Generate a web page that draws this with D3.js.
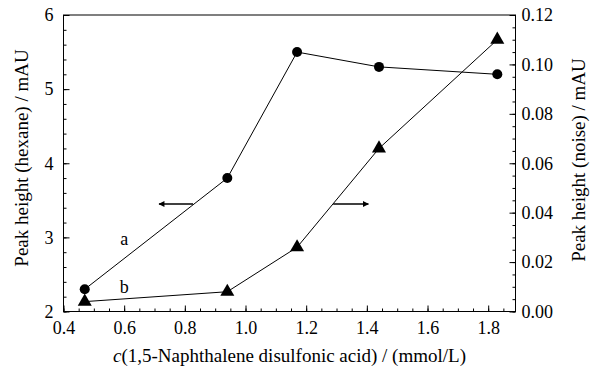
<!DOCTYPE html>
<html>
<head>
<meta charset="utf-8">
<style>
  html, body { margin: 0; padding: 0; background: #fff; }
  svg text { font-family: "Liberation Serif", serif !important; fill: #000; }
  .axis path.domain { display: none; }
  .axis line { stroke: #000; stroke-width: 1; }
</style>
<script src="https://cdn.jsdelivr.net/npm/d3@7"></script>
</head>
<body>
<div id="main"></div>
<script>
// concentration of 1,5-naphthalene disulfonic acid (mmol/L)
var conc = [0.47, 0.94, 1.17, 1.44, 1.83];
// a: peak height of hexane (left axis, mAU)
var hexane = [2.3, 3.8, 5.5, 5.3, 5.2];
// b: peak height of noise (right axis, mAU)
var noise = [0.004, 0.008, 0.026, 0.066, 0.110];

var xTicks = [0.4, 0.6, 0.8, 1.0, 1.2, 1.4, 1.6, 1.8];
var leftTicks = [2, 3, 4, 5, 6];
var rightTicks = [0.00, 0.02, 0.04, 0.06, 0.08, 0.10, 0.12];

var width = 603, height = 372;
var margin = {left: 63.5, right: 87.5, top: 15, bottom: 60.5};
var tickFont = "18px", titleFont = "19px";

var svg = d3.select("#main").append("svg")
    .attr("width", width)
    .attr("height", height);

var x = d3.scaleLinear().domain([0.4, 1.89]).range([margin.left, width - margin.right]);
var yL = d3.scaleLinear().domain([2, 6]).range([height - margin.bottom, margin.top]);
var yR = d3.scaleLinear().domain([0, 0.12]).range([height - margin.bottom, margin.top]);

var bottom = height - margin.bottom, right = width - margin.right;

function minors(start, stop, step) {
    return d3.range(Math.round((stop - start) / step) + 1).map(function(i) { return +(start + i * step).toFixed(4); });
}

function styleAxis(g) {
    g.attr("font-family", null).attr("font-size", null);
    g.selectAll("text").style("font-size", tickFont);
}

// bottom axis
svg.append("g").attr("class", "axis")
    .attr("transform", "translate(0," + bottom + ")")
    .call(d3.axisBottom(x).tickValues(minors(0.4, 1.85, 0.05)).tickSize(-3).tickFormat(""));
svg.append("g").attr("class", "axis")
    .attr("transform", "translate(0," + bottom + ")")
    .call(d3.axisBottom(x).tickValues(xTicks).tickSize(-6).tickPadding(10).tickFormat(d3.format(".1f")))
    .call(styleAxis);

// left axis
svg.append("g").attr("class", "axis")
    .attr("transform", "translate(" + margin.left + ",0)")
    .call(d3.axisLeft(yL).tickValues(minors(2, 6, 0.2)).tickSize(-3).tickFormat(""));
svg.append("g").attr("class", "axis")
    .attr("transform", "translate(" + margin.left + ",0)")
    .call(d3.axisLeft(yL).tickValues(leftTicks).tickSize(-6).tickPadding(10).tickFormat(d3.format("d")))
    .call(styleAxis);

// right axis
svg.append("g").attr("class", "axis")
    .attr("transform", "translate(" + right + ",0)")
    .call(d3.axisRight(yR).tickValues(minors(0, 0.12, 0.005)).tickSize(-3).tickFormat(""));
svg.append("g").attr("class", "axis")
    .attr("transform", "translate(" + right + ",0)")
    .call(d3.axisRight(yR).tickValues(rightTicks).tickSize(-6).tickPadding(6).tickFormat(d3.format(".2f")))
    .call(styleAxis);

// frame
svg.append("rect")
    .attr("x", margin.left).attr("y", margin.top)
    .attr("width", right - margin.left).attr("height", bottom - margin.top)
    .attr("fill", "none").attr("stroke", "#000").attr("stroke-width", 1);

// series
var lineA = d3.line().x(function(d, i) { return x(conc[i]); }).y(function(d) { return yL(d); });
var lineB = d3.line().x(function(d, i) { return x(conc[i]); }).y(function(d) { return yR(d); });

svg.append("path").attr("d", lineA(hexane)).attr("fill", "none").attr("stroke", "#000").attr("stroke-width", 1);
svg.append("path").attr("d", lineB(noise)).attr("fill", "none").attr("stroke", "#000").attr("stroke-width", 1);

svg.selectAll(".dotA").data(hexane).enter().append("circle")
    .attr("cx", function(d, i) { return x(conc[i]); })
    .attr("cy", function(d) { return yL(d); })
    .attr("r", 5).attr("fill", "#000");

var tri = d3.symbol().type(d3.symbolTriangle).size(85);
svg.selectAll(".triB").data(noise).enter().append("path")
    .attr("d", tri)
    .attr("transform", function(d, i) { return "translate(" + x(conc[i]) + "," + yR(d) + ")"; })
    .attr("fill", "#000");

// arrows showing which axis each curve uses
var defs = svg.append("defs");
defs.append("marker").attr("id", "head")
    .attr("viewBox", "0 0 10 10").attr("refX", 9).attr("refY", 5)
    .attr("markerWidth", 9).attr("markerHeight", 6).attr("orient", "auto")
    .attr("markerUnits", "userSpaceOnUse")
    .append("path").attr("d", "M0,0L10,5L0,10z").attr("fill", "#000");

var arrowY = 3.45;
svg.append("line")
    .attr("x1", x(0.827)).attr("x2", x(0.715))
    .attr("y1", yL(arrowY)).attr("y2", yL(arrowY))
    .attr("stroke", "#000").attr("stroke-width", 1.3).attr("marker-end", "url(#head)");
svg.append("line")
    .attr("x1", x(1.289)).attr("x2", x(1.405))
    .attr("y1", yL(arrowY)).attr("y2", yL(arrowY))
    .attr("stroke", "#000").attr("stroke-width", 1.3).attr("marker-end", "url(#head)");

// curve labels
svg.append("text").attr("x", x(0.6)).attr("y", yL(2.98) + 6)
    .attr("text-anchor", "middle").style("font-size", tickFont).text("a");
svg.append("text").attr("x", x(0.6)).attr("y", yL(2.33) + 6)
    .attr("text-anchor", "middle").style("font-size", tickFont).text("b");

// axis titles
var xt = svg.append("text")
    .attr("x", (margin.left + right) / 2).attr("y", 362)
    .attr("text-anchor", "middle").style("font-size", titleFont);
xt.append("tspan").style("font-style", "italic").text("c");
xt.append("tspan").text("(1,5-Naphthalene disulfonic acid) / (mmol/L)");

svg.append("text")
    .attr("transform", "translate(28,158) rotate(-90)")
    .attr("text-anchor", "middle").style("font-size", titleFont)
    .text("Peak height (hexane) / mAU");

svg.append("text")
    .attr("transform", "translate(585,160) rotate(-90)")
    .attr("text-anchor", "middle").style("font-size", titleFont)
    .text("Peak height (noise) / mAU");
</script>
</body>
</html>
